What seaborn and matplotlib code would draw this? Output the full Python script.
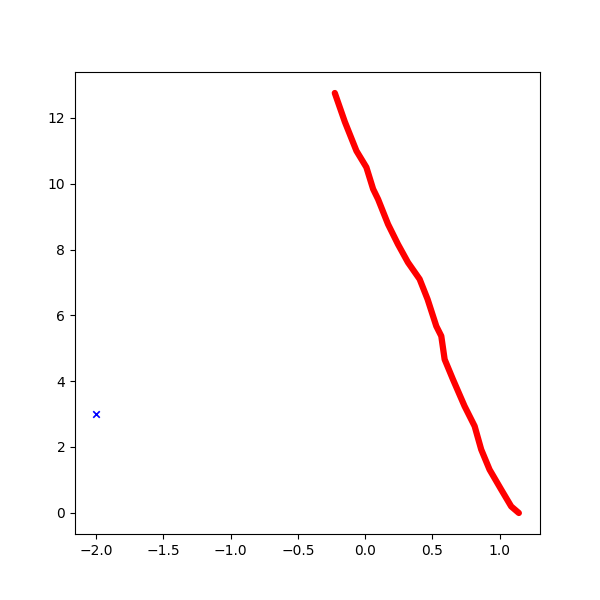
import matplotlib
matplotlib.use("Agg")
import matplotlib.pyplot as plt
import seaborn as sns
import pandas as pd

# Red path
path_x = [-0.225, -0.15, -0.064, 0.01, 0.06, 0.097, 0.171, 0.245, 0.319, 0.406,
          0.465, 0.530, 0.567, 0.592, 0.654, 0.74, 0.815, 0.864, 0.926, 1.013,
          1.087, 1.144]
path_y = [12.76, 11.88, 11.0, 10.5, 9.84, 9.53, 8.77, 8.16, 7.61, 7.10,
          6.49, 5.67, 5.37, 4.66, 4.05, 3.24, 2.63, 1.92, 1.31, 0.70,
          0.19, -0.01]

# Single blue point
point_x = [-2.0]
point_y = [3.0]

df_path = pd.DataFrame({'x': path_x, 'y': path_y})
df_point = pd.DataFrame({'x': point_x, 'y': point_y})

fig, ax = plt.subplots(figsize=(6, 6), dpi=100)

sns.lineplot(data=df_path, x='x', y='y', sort=False, color='red',
             linewidth=4.5, solid_capstyle='round', solid_joinstyle='round', ax=ax)
sns.scatterplot(data=df_point, x='x', y='y', marker='x', color='blue',
                s=22, linewidth=1.2, ax=ax)

ax.set_xlabel('')
ax.set_ylabel('')

fig.savefig('out.png')
